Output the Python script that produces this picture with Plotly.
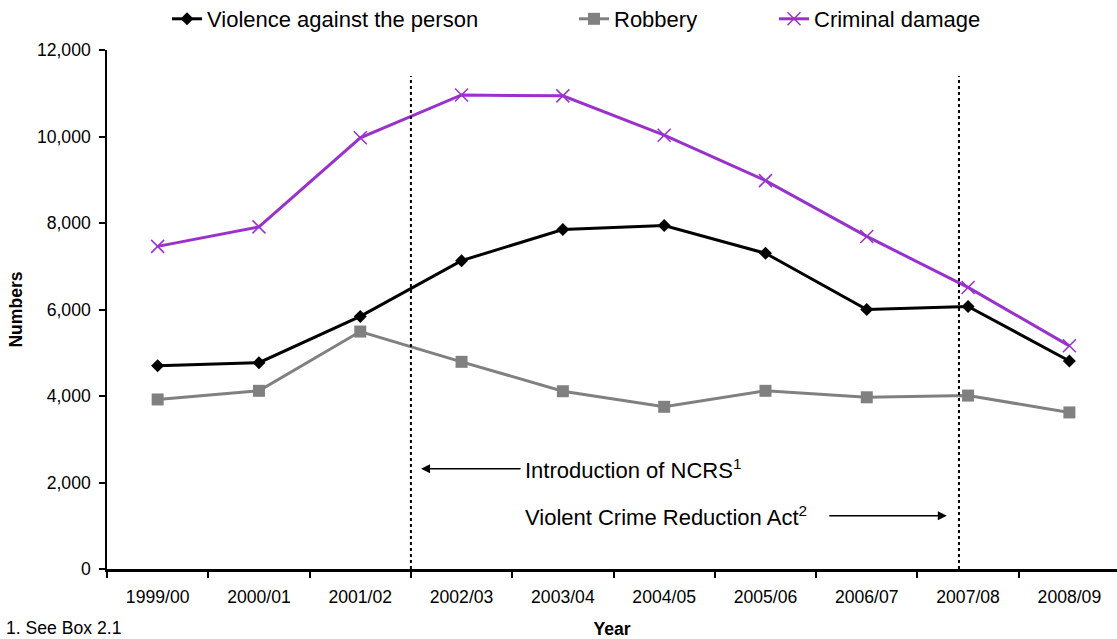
import plotly.graph_objects as go

# Financial years on the category axis
years = ["1999/00", "2000/01", "2001/02", "2002/03", "2003/04",
         "2004/05", "2005/06", "2006/07", "2007/08", "2008/09"]

# Recorded offences (numbers)
violence = [4700, 4770, 5840, 7130, 7850, 7940, 7300, 6000, 6070, 4810]
robbery = [3920, 4120, 5490, 4790, 4110, 3750, 4120, 3970, 4010, 3620]
criminal_damage = [7460, 7910, 9970, 10960, 10940, 10030, 8980, 7690, 6510, 5160]

# y-axis ticks
y_ticks = [0, 2000, 4000, 6000, 8000, 10000, 12000]

# Policy change markers (category-axis positions) and their labels
ncrs_pos = 2.5
vcra_pos = 7.91
marker_top = 11400
ncrs_label = "Introduction of NCRS<sup>1</sup>"
vcra_label = "Violent Crime Reduction Act<sup>2</sup>"

FONT = "Liberation Sans, Arial, sans-serif"
PURPLE = "#9932CC"
GREY = "#808080"

# Plot-area geometry in pixels, used to place paper-referenced items
PLOT_L, PLOT_W = 107, 1010
PLOT_B, PLOT_H = 569, 519

fig = go.Figure()

fig.add_trace(go.Scatter(
    x=years, y=violence, name="Violence against the person",
    mode="lines+markers", legend="legend",
    line=dict(color="black", width=3),
    marker=dict(symbol="diamond", size=10, color="black"),
))
fig.add_trace(go.Scatter(
    x=years, y=robbery, name="Robbery",
    mode="lines+markers", legend="legend2",
    line=dict(color=GREY, width=3),
    marker=dict(symbol="square", size=12, color=GREY),
))
fig.add_trace(go.Scatter(
    x=years, y=criminal_damage, name="Criminal damage",
    mode="lines+markers", legend="legend3",
    line=dict(color=PURPLE, width=3),
    marker=dict(symbol="x-thin", size=13, color=PURPLE,
                line=dict(color=PURPLE, width=1.5)),
))

# Vertical dotted reference lines
for pos in (ncrs_pos, vcra_pos):
    fig.add_shape(type="line", xref="x", yref="y",
                  x0=pos, x1=pos, y0=0, y1=marker_top,
                  line=dict(color="black", width=2, dash="dot"))

# Labels with arrows pointing at the reference lines
arrow_style = dict(showarrow=True, arrowhead=2, arrowsize=1.2,
                   arrowwidth=1.5, arrowcolor="black", axref="pixel",
                   ayref="pixel", align="left", borderpad=4,
                   font=dict(family=FONT, size=22, color="black"))
fig.add_annotation(x=2.6, y=2318, xref="x", yref="y", text=ncrs_label,
                   ax=212, ay=0, width=216, **arrow_style)
fig.add_annotation(x=7.79, y=1232, xref="x", yref="y", text=vcra_label,
                   ax=-272, ay=0, width=300, **arrow_style)

# Footnote
fig.add_annotation(x=(4 - PLOT_L) / PLOT_W, y=(PLOT_B - 628) / PLOT_H,
                   xref="paper", yref="paper",
                   text="1. See Box 2.1", showarrow=False,
                   xanchor="left", yanchor="middle",
                   font=dict(family=FONT, size=17.6, color="black"))

legend_common = dict(orientation="h", xref="container", yref="container",
                     yanchor="middle", xanchor="left", y=1 - 19 / 639,
                     font=dict(family=FONT, size=22, color="black"),
                     bgcolor="rgba(0,0,0,0)", borderwidth=0)

fig.update_layout(
    width=1117, height=639,
    margin=dict(l=107, r=0, t=50, b=70),
    paper_bgcolor="white", plot_bgcolor="white",
    font=dict(family=FONT, size=17.6, color="black"),
    showlegend=True,
    legend=dict(x=167 / 1117, **legend_common),
    legend2=dict(x=574 / 1117, **legend_common),
    legend3=dict(x=774 / 1117, **legend_common),
    xaxis=dict(
        type="category", range=[-0.5, 9.47],
        tickson="boundaries", ticks="outside", ticklen=6, tickwidth=2,
        tickcolor="black", showline=True, linecolor="black", linewidth=2.5,
        showgrid=False, zeroline=False, ticklabelstandoff=10,
        tickfont=dict(family=FONT, size=17.6, color="black"),
        title=dict(text="<b>Year</b>", standoff=19,
                   font=dict(family=FONT, size=17.6, color="black")),
    ),
    yaxis=dict(
        range=[0, 12000], tickvals=y_ticks, tickformat=",",
        ticks="outside", ticklen=6, tickwidth=1.5, tickcolor="black",
        showline=True, linecolor="black", linewidth=1.5,
        showgrid=False, zeroline=False, ticklabelstandoff=5,
        tickfont=dict(family=FONT, size=17.6, color="black"),
        title=dict(text="<b>Numbers</b>", standoff=10,
                   font=dict(family=FONT, size=17.6, color="black")),
    ),
)

fig.write_html("out.html")
